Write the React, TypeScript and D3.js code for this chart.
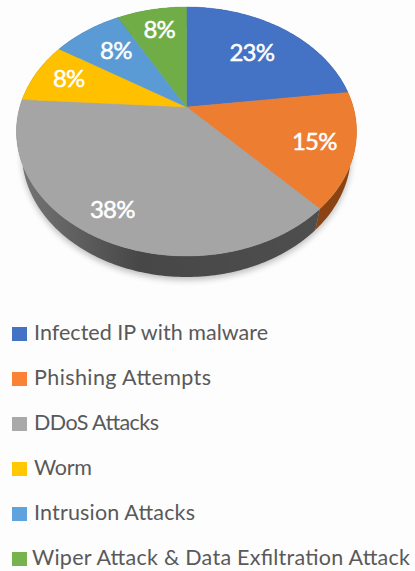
import React from "react";
import * as d3 from "d3";

const categories = [
  "Infected IP with malware",
  "Phishing Attempts",
  "DDoS Attacks",
  "Worm",
  "Intrusion Attacks",
  "Wiper Attack & Data Exfiltration Attack",
];
const shares = [23, 15, 38, 8, 8, 8];
const topColors = ["#4472c4", "#ed7d31", "#a5a5a5", "#ffc000", "#5b9bd5", "#70ad47"];
const legendColors = ["#4472c4", "#fb8136", "#a9a9a9", "#ffc800", "#5ea3de", "#76b34e"];
const wallColors = ["#2a4478", "#8a4413", "#474747", "#9a7400", "#37608a", "#436a2a"];

// Each label sits at its own fraction of the radius along the slice's mid angle,
// then gets a small nudge so it clears the slice edges.
const labelRadius = [0.66, 0.79, 0.8, 0.75, 0.68, 0.75];
const labelNudgeX = [-1, -3, -8, -4, 0, 0];
const labelNudgeY = [-2, 0, 0, -3, -3, -2];

// Set widths of the legend captions, and the row that starts a little further left.
const captionWidths = [234, 177, 125, 58, 161, 378];
const captionStart = [34, 34, 34, 34, 34, 32];

// Perspective of the tilted disc: the centre of the circle lands above the
// centre of its projected outline.
const apexX = 186.5;
const apexY = 107;
const foreshorten = 98.6;
const widthScale = 166.7;
const tilt = -0.1968;
const depth = 21;
const baseNarrowing = 0.968;

function project(r: number, angle: number): [number, number] {
  const X = r * Math.sin(angle);
  const Y = -r * Math.cos(angle);
  const w = 1 + tilt * Y;
  return [apexX + (widthScale * X) / w, (apexY + foreshorten * Y) / w];
}

function rim(start: number, end: number): [number, number][] {
  const steps = Math.max(2, Math.ceil((end - start) * 60));
  return d3.range(steps + 1).map((i) => project(1, start + ((end - start) * i) / steps));
}

// The base of the disc is further from the eye, so its outline is a bit narrower.
function lowerRim(points: [number, number][]): [number, number][] {
  return points.map(([x, y]) => [apexX + (x - apexX) * baseNarrowing, y + depth]);
}

const line = d3.line();
const slices = d3.pie<number>().sort(null)(shares);

const legendY = d3.scalePoint<string>().domain(categories).range([334, 559]);

function facePath(start: number, end: number): string {
  return (line([[apexX, apexY], ...rim(start, end)]) as string) + "Z";
}

function wallPath(start: number, end: number): string {
  const edge = rim(start, end);
  return (line([...edge, ...lowerRim(edge).reverse()]) as string) + "Z";
}

const baseOutline = (line(lowerRim(rim(0, Math.PI * 2))) as string) + "Z";

export default function App() {
  const grey = slices[2];
  return (
    <svg
      width={415}
      height={571}
      viewBox="0 0 415 571"
      style={{ position: "absolute", left: 0, top: 0, background: "#fdfdfd" }}
    >
      <defs>
        <filter id="dropBlur" x="-10%" y="-10%" width="120%" height="120%">
          <feGaussianBlur stdDeviation="3" />
        </filter>
        <linearGradient id="wallShade" gradientUnits="userSpaceOnUse" x1="20" x2="320" y1="0" y2="0">
          <stop offset="0" stopColor="#fff" stopOpacity="0.25" />
          <stop offset="0.4" stopColor="#fff" stopOpacity="0" />
          <stop offset="1" stopColor="#fff" stopOpacity="0.04" />
        </linearGradient>
      </defs>

      <path d={baseOutline} transform="translate(0, 3)" fill="#000" opacity={0.25} filter="url(#dropBlur)" />

      <g>
        {slices.map((s, i) => (
          <path key={i} d={wallPath(s.startAngle, s.endAngle)} fill={wallColors[i]} />
        ))}
        <path d={wallPath(grey.startAngle, grey.endAngle)} fill="url(#wallShade)" />
      </g>

      <g>
        {slices.map((s, i) => (
          <path
            key={i}
            d={facePath(s.startAngle, s.endAngle)}
            fill={topColors[i]}
            stroke={topColors[i]}
            strokeWidth={0.4}
          />
        ))}
      </g>

      <g
        fontFamily="Lato, 'Open Sans', sans-serif"
        fontSize={24}
        fill="#fff"
        stroke="#fff"
        strokeWidth={0.5}
        textAnchor="middle"
        letterSpacing={-0.8}
      >
        {slices.map((s, i) => {
          const [x, y] = project(labelRadius[i], (s.startAngle + s.endAngle) / 2);
          return (
            <text key={i} x={x + labelNudgeX[i]} y={y + labelNudgeY[i]} dominantBaseline="central">
              {`${shares[i]}%`}
            </text>
          );
        })}
      </g>

      <g fontFamily="Lato, 'Open Sans', sans-serif" fontSize={21.5} fill="#595959">
        {categories.map((c, i) => {
          const y = legendY(c) as number;
          return (
            <g key={c}>
              <rect x={12} y={y - 7} width={15} height={14} fill={legendColors[i]} />
              <text
                x={captionStart[i]}
                y={y + 6}
                textLength={captionWidths[i]}
                lengthAdjust="spacing"
              >
                {c}
              </text>
            </g>
          );
        })}
      </g>
    </svg>
  );
}
